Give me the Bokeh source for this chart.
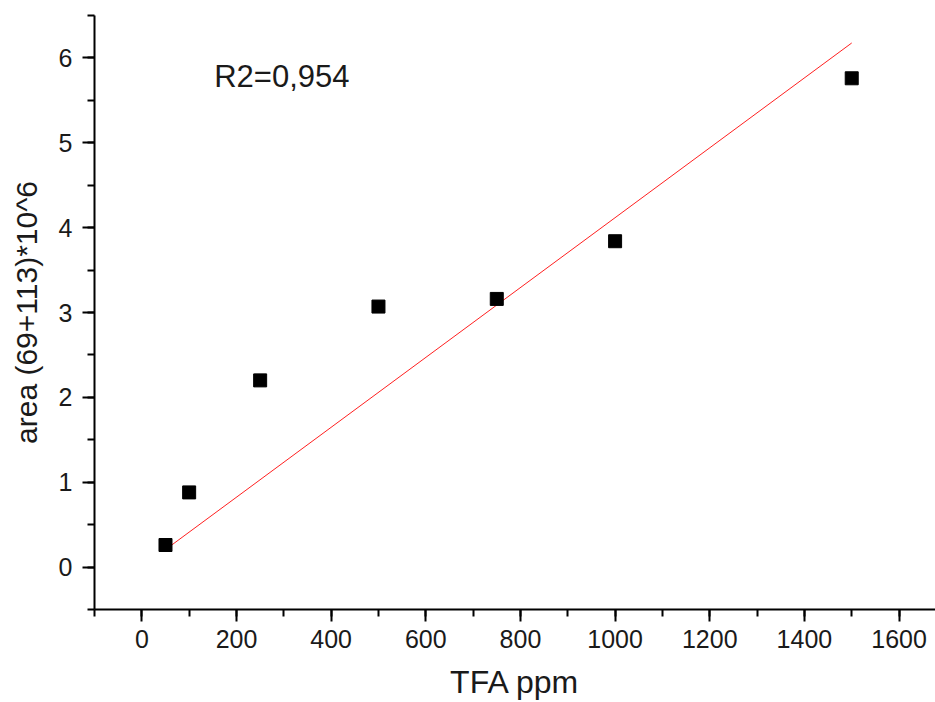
import numpy as np
from bokeh.plotting import figure
from bokeh.models import Range1d, SingleIntervalTicker, Label, ColumnDataSource
from bokeh.embed import file_html
from bokeh.resources import INLINE

# data
tfa_ppm = [50, 100, 250, 500, 750, 1000, 1500]
area = [0.26, 0.88, 2.20, 3.07, 3.16, 3.84, 5.76]
r2_text = "R2=0,954"
x_title = "TFA ppm"
y_title = "area (69+113)*10^6"

# linear fit through the origin
xa = np.array(tfa_ppm, dtype=float)
ya = np.array(area, dtype=float)
slope = float((xa * ya).sum() / (xa * xa).sum())
fit_x = [tfa_ppm[0], tfa_ppm[-1]]
fit_y = [slope * v for v in fit_x]

FONT = "Liberation Sans"

p = figure(width=935, height=702, output_backend="svg", toolbar_location=None,
           x_range=Range1d(-100, 1677), y_range=Range1d(-0.5, 6.5),
           min_border_left=94, min_border_right=0, min_border_top=15, min_border_bottom=92)
p.outline_line_color = None
p.xgrid.visible = False
p.ygrid.visible = False
p.background_fill_color = "white"
p.border_fill_color = "white"

p.line(fit_x, fit_y, line_color="#ff2020", line_width=1)
p.scatter(x="x", y="y", source=ColumnDataSource(dict(x=tfa_ppm, y=area)),
          marker="square", size=13, fill_color="black", line_color="black")

p.xaxis.ticker = SingleIntervalTicker(interval=200, num_minor_ticks=2)
p.yaxis.ticker = SingleIntervalTicker(interval=1, num_minor_ticks=2)

for ax in (p.xaxis[0], p.yaxis[0]):
    ax.axis_line_color = "black"
    ax.axis_line_width = 2
    ax.major_tick_line_color = "black"
    ax.major_tick_line_width = 2
    ax.minor_tick_line_color = "black"
    ax.minor_tick_line_width = 2
    ax.major_tick_out = 12
    ax.major_tick_in = 0
    ax.minor_tick_out = 7
    ax.minor_tick_in = 0
    ax.major_label_text_font = FONT
    ax.major_label_text_font_size = "25px"
    ax.major_label_text_color = "#1a1a1a"
    ax.axis_label_text_font = FONT
    ax.axis_label_text_font_style = "normal"
    ax.axis_label_text_color = "#1a1a1a"

p.xaxis.axis_label = x_title
p.yaxis.axis_label = y_title
p.xaxis.axis_label_text_font_size = "32px"
p.yaxis.axis_label_text_font_size = "30px"
p.xaxis.major_label_standoff = 8
p.yaxis.major_label_standoff = 10
p.xaxis.axis_label_standoff = 13
p.yaxis.axis_label_standoff = 13

p.add_layout(Label(x=153, y=5.78, text=r2_text, text_font=FONT, text_font_size="31px",
                   text_color="#1a1a1a", text_baseline="middle"))

open("out.html", "w").write(file_html(p, INLINE))
